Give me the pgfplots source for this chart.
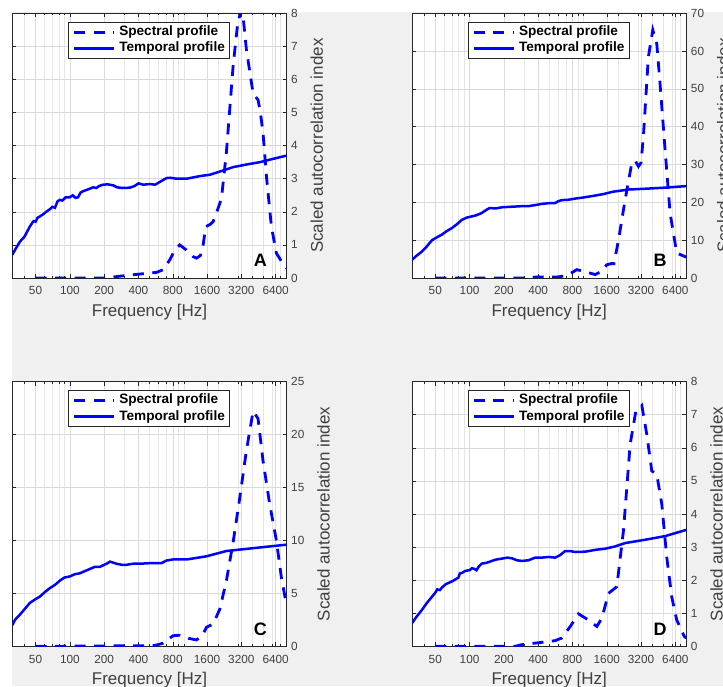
\documentclass[border=0pt]{standalone}
\usepackage{pgfplots}
\pgfplotsset{compat=1.18}
\usepackage{fontspec}
\setmainfont{Liberation Sans}
\definecolor{figbg}{RGB}{240,240,240}
\definecolor{axgray}{RGB}{38,38,38}
\definecolor{txtgray}{RGB}{64,64,64}
\definecolor{gridmaj}{RGB}{218,218,218}
\definecolor{gridmin}{RGB}{230,230,230}
\definecolor{lineblue}{RGB}{0,0,255}
\pgfplotsset{
  /pgf/number format/assume math mode=true,
  legend image code/.code={\draw[#1] (0pt,0pt) -- (40pt,0pt);},
  every axis/.append style={
    scale only axis, width=274.4pt, height=264.7pt, anchor=south west,
    xmin=31.25, xmax=8000,
    xtick={50,100,200,400,800,1600,3200,6400},
    xticklabels={50,100,200,400,800,1600,3200,6400},
    minor xtick={40,60,70,80,90,300,500,600,700,900,1000,2000,3000,4000,5000,6000,7000},
    grid=both,
    major grid style={gridmaj, line width=0.5pt},
    minor grid style={gridmin, line width=0.4pt},
    axis line style={axgray, line width=0.6pt},
    tick align=inside,
    tick style={axgray, line width=0.5pt},
    major tick length=4pt, minor tick length=2.2pt,
    yticklabel pos=right,
    tick label style={font=\fontsize{11.8}{11.8}\selectfont, text=txtgray},
    xticklabel shift=5pt,
    yticklabel shift=1pt,
    xlabel={Frequency [Hz]},
    ylabel={Scaled autocorrelation index},
    xlabel shift=2pt,
    ylabel shift=6pt,
    label style={font=\fontsize{17}{17}\selectfont, text=txtgray},
    axis background/.style={fill=white},
    legend cell align=left,
    legend style={at={(rel axis cs:0.203,0.968)}, anchor=north west,
      draw=axgray, line width=0.6pt, fill=white,
      font=\bfseries\fontsize{13.6}{15}\selectfont,
      inner xsep=4.5pt, inner ysep=2pt, column sep=3.7pt, row sep=0pt,
      nodes={inner xsep=0pt, inner ysep=1.7pt, text height=9.8pt, text depth=3pt}},
  },
  spec/.style={lineblue, line width=2.8pt, dash pattern=on 11pt off 8.5pt},
  temp/.style={lineblue, line width=2.5pt},
}
\newcommand{\panellabel}[1]{\node[font=\bfseries\fontsize{18}{18}\selectfont, text=black] at (rel axis cs:0.904,0.066) {#1};}
\begin{document}
\begin{tikzpicture}
\useasboundingbox (0pt,0pt) rectangle (723pt,686pt);
\clip (0pt,0pt) rectangle (723pt,686pt);
\fill[white] (0pt,0pt) rectangle (723pt,686pt);
\fill[figbg] (12pt,0pt) rectangle (723pt,674pt);

% ---------------- A ----------------
\begin{semilogxaxis}[at={(12.3pt,408pt)}, ymin=0, ymax=8, ytick={0,1,...,8}]
\addplot[spec] table {
50 0
100 0
200 0
240 0.03
300 0.07
412 0.12
576 0.17
660 0.25
754 0.55
820 0.80
920 1.00
1050 0.85
1200 0.65
1291 0.60
1400 0.68
1478 1.00
1560 1.55
1700 1.62
1807 1.70
1950 2.00
2140 2.40
2365 3.80
2707 6.40
2993 7.80
3270 8.10
3544 6.90
4056 5.58
4484 5.38
4700 5.00
4960 4.38
5313 3.07
5869 1.56
6494 0.75
7678 0.35
8000 0.30
};
\addlegendentry{Spectral profile}
\addplot[temp] table {
31.25 0.70
33 0.85
36.5 1.10
40 1.25
44.6 1.56
48 1.72
50 1.70
52 1.82
54.6 1.86
58 1.92
62 2.00
66.8 2.08
70 2.15
74 2.12
78 2.32
81.7 2.36
86 2.34
92 2.44
100 2.44
106 2.50
112 2.42
118 2.44
124 2.58
130 2.62
140 2.66
150 2.70
160 2.74
171 2.72
180 2.78
196 2.82
215 2.83
240 2.80
260 2.74
290 2.72
336 2.73
370 2.78
400 2.86
440 2.82
504 2.84
560 2.82
600 2.88
650 2.95
704 3.02
760 3.03
862 3.00
1056 3.00
1250 3.05
1381 3.08
1690 3.12
2000 3.20
2213 3.25
2707 3.35
3544 3.43
4640 3.50
6068 3.60
8000 3.70
};
\addlegendentry{Temporal profile}
\panellabel{A}
\end{semilogxaxis}

% ---------------- B ----------------
\begin{semilogxaxis}[at={(412pt,408pt)}, ymin=0, ymax=70, ytick={0,10,...,70}]
\addplot[spec] table {
50 0
300 0
400 0.3
500 0.2
600 0.3
700 0.6
800 1.5
871 2.2
1000 1.8
1266 0.9
1450 1.8
1600 3.5
1750 3.8
1850 3.8
2028 10.0
2318 20.7
2653 30.4
2850 31.0
3033 29.5
3200 30.5
3363 38.0
3710 58.5
4056 65.6
4394 62.0
4693 51.5
5200 33.9
5750 17.2
6580 6.6
8000 5.5
};
\addlegendentry{Spectral profile}
\addplot[temp] table {
31.25 4.8
34 5.8
38.2 7.0
42 8.3
46.8 10.0
52 10.8
57.3 11.5
63 12.4
70 13.2
78 14.3
85.8 15.4
95 16.0
105 16.3
115 16.6
128 17.2
140 18.0
150 18.5
170 18.4
192 18.7
220 18.8
252 18.9
290 19.0
329 19.0
380 19.3
431 19.6
500 19.8
563 19.8
600 20.3
645 20.6
740 20.7
845 21.0
1000 21.3
1266 21.8
1500 22.2
1800 22.8
2495 23.4
3470 23.6
5200 23.9
8000 24.3
};
\addlegendentry{Temporal profile}
\panellabel{B}
\end{semilogxaxis}

% ---------------- C ----------------
\begin{semilogxaxis}[at={(12.3pt,39.7pt)}, ymin=0, ymax=25, ytick={0,5,...,25}]
\addplot[spec] table {
50 0
400 0.05
537 0.08
576 0.12
660 0.30
806 1.00
922 1.05
1100 0.75
1291 0.60
1450 1.00
1581 1.80
1807 2.10
2069 3.50
2365 6.20
2707 9.80
3096 14.0
3544 18.5
4056 22.2
4484 21.5
4960 17.5
5660 13.5
6494 10.0
7185 6.5
8000 3.8
};
\addlegendentry{Spectral profile}
\addplot[temp] table {
31.25 2.0
33 2.5
36.5 3.0
40 3.5
44.6 4.1
49 4.4
54.6 4.7
60 5.1
66.8 5.5
74 5.8
81.7 6.2
90 6.5
100 6.6
110 6.8
122.6 6.9
135 7.1
149.8 7.3
165 7.5
183 7.5
210 7.8
225 8.0
240 7.9
256 7.8
285 7.7
314 7.7
360 7.8
412 7.8
500 7.85
637 7.85
704 8.1
800 8.2
1056 8.2
1581 8.5
2365 9.0
3544 9.2
5313 9.4
8000 9.6
};
\addlegendentry{Temporal profile}
\panellabel{C}
\end{semilogxaxis}

% ---------------- D ----------------
\begin{semilogxaxis}[at={(412pt,39.7pt)}, ymin=0, ymax=8, ytick={0,1,...,8}]
\addplot[spec] table {
50 0
252 0
288 0.05
431 0.12
563 0.17
645 0.25
765 0.60
904 0.98
1100 0.80
1309 0.60
1450 0.85
1656 1.60
1800 1.70
1960 1.80
2243 3.50
2566 6.10
2876 7.10
3250 7.28
3594 6.40
3975 5.30
4394 5.20
4864 4.30
5376 2.70
5944 1.50
6570 0.80
7660 0.30
8000 0.25
};
\addlegendentry{Spectral profile}
\addplot[temp] table {
31.25 0.70
34 0.88
38.2 1.10
42 1.30
46.8 1.50
50 1.62
52 1.72
55 1.70
57.3 1.78
62 1.88
66 1.92
70 1.96
75 2.02
80 2.08
82 2.20
85.8 2.22
92 2.28
100 2.30
105 2.36
110 2.34
115 2.30
120 2.40
128 2.50
140 2.52
157 2.58
170 2.62
192 2.65
215 2.68
235 2.66
260 2.60
288 2.58
329 2.60
377 2.68
430 2.68
493 2.70
563 2.68
620 2.75
690 2.88
760 2.88
845 2.85
1035 2.86
1300 2.92
1550 2.95
1900 3.02
2318 3.12
3470 3.22
5200 3.33
8000 3.52
};
\addlegendentry{Temporal profile}
\panellabel{D}
\end{semilogxaxis}
\end{tikzpicture}
\end{document}
